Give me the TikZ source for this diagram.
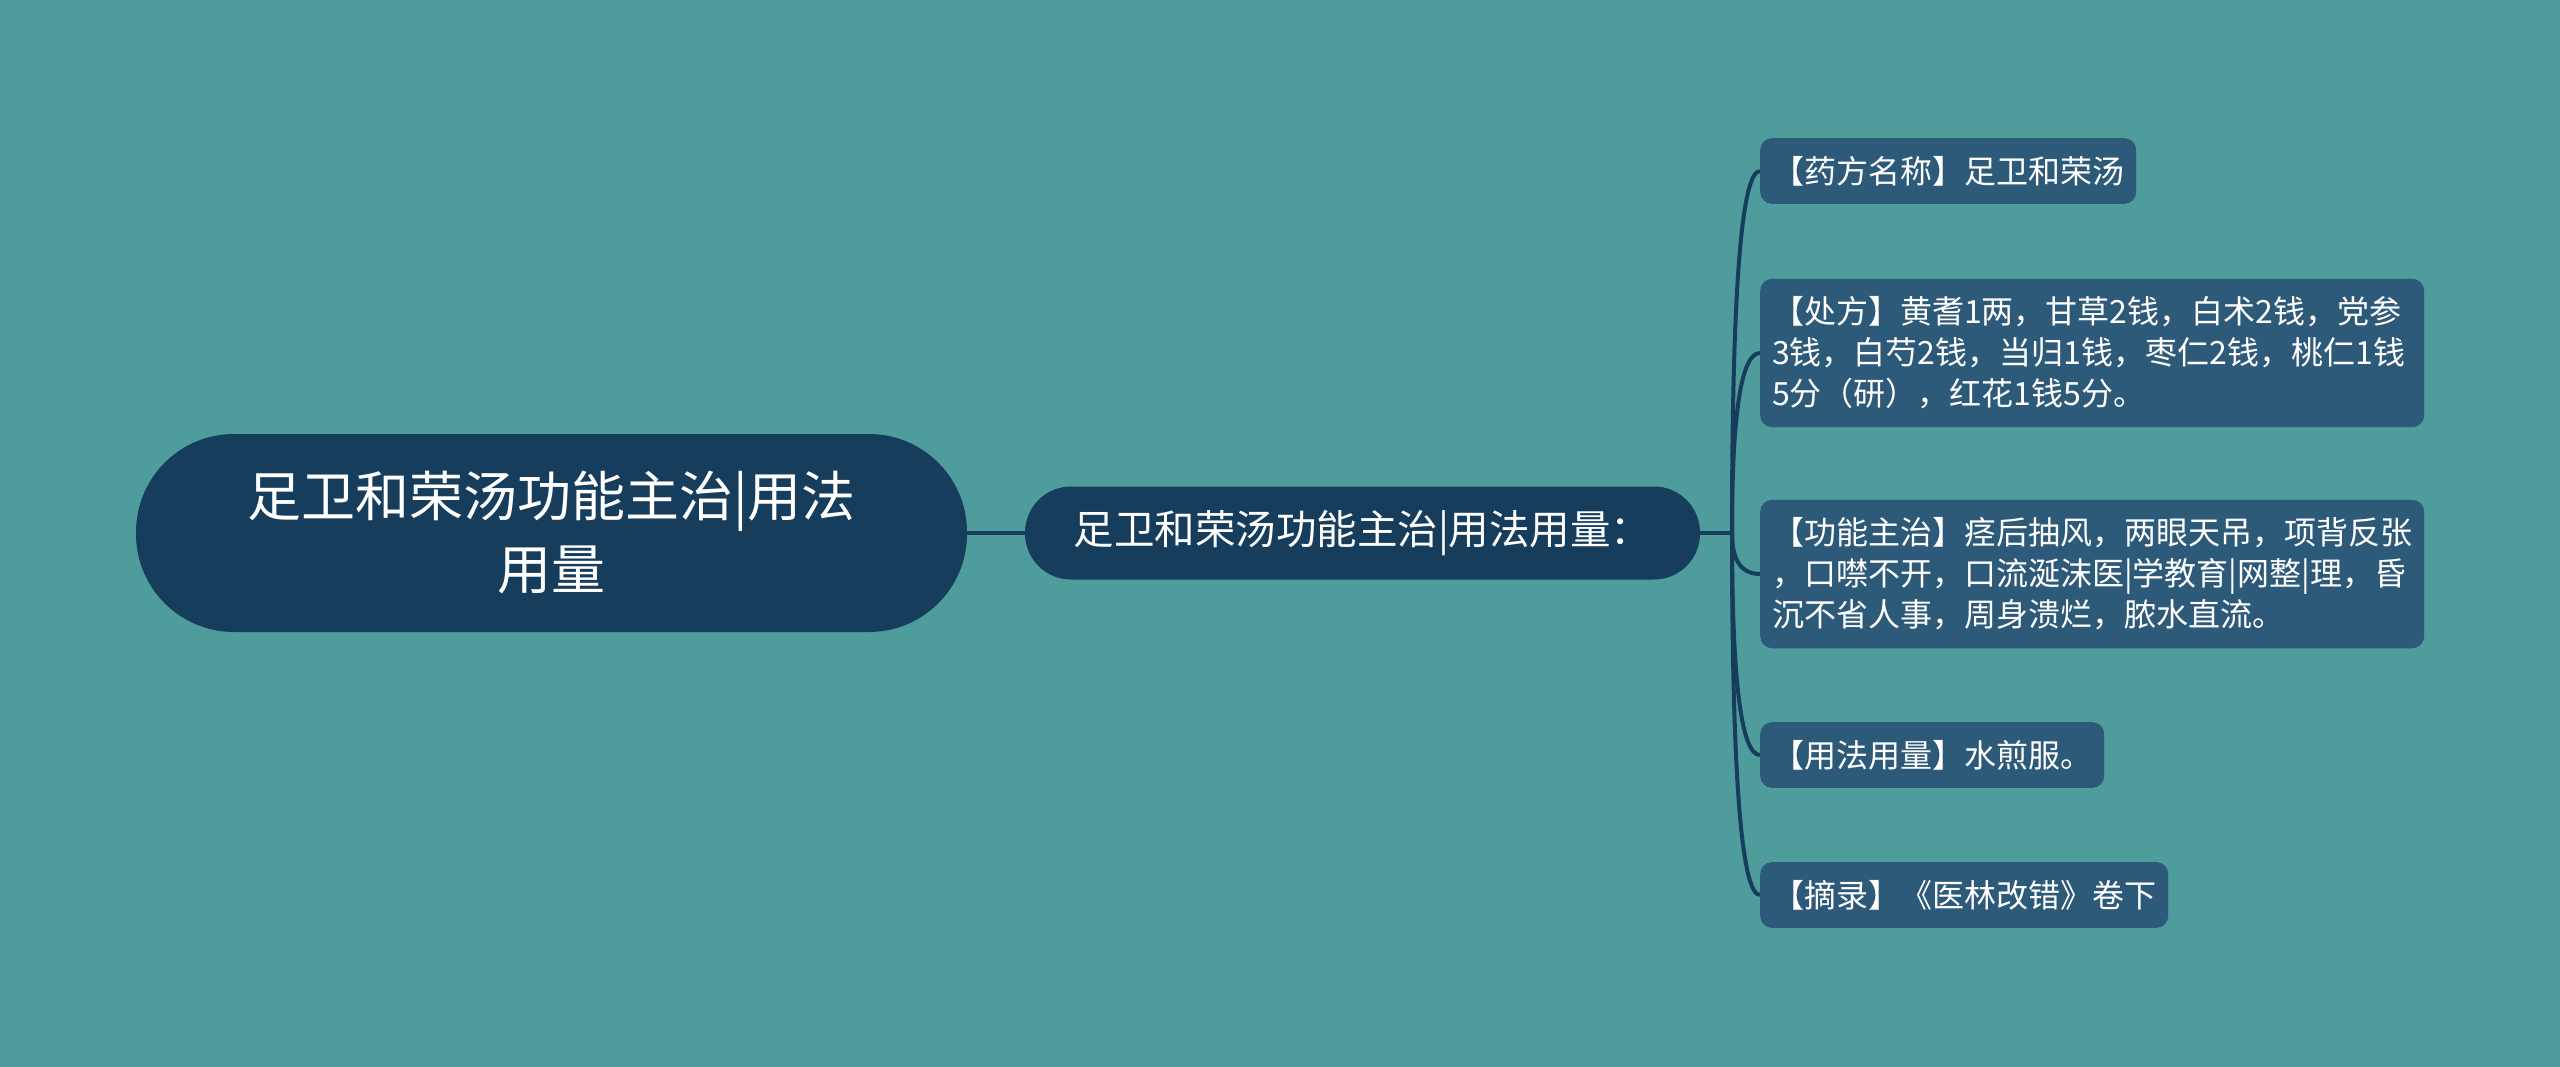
\documentclass[tikz,border=0pt]{standalone}
\usepackage{fontspec}
\setmainfont{Noto Sans CJK SC}
\usetikzlibrary{calc}
\definecolor{bgteal}{HTML}{4E9C9C}
\definecolor{darknode}{HTML}{173D5C}
\definecolor{leafnode}{HTML}{2E5A7A}
\tikzset{
  rootbox/.style={fill=darknode, text=white, rounded corners=98pt, align=center, inner sep=0pt,
    minimum width=831pt, minimum height=198pt, font=\fontsize{54}{73}\selectfont},
  midbox/.style={fill=darknode, text=white, rounded corners=46pt, align=center, inner sep=0pt,
    minimum width=675pt, minimum height=93pt, font=\fontsize{40.5}{48}\selectfont},
  leafbox/.style={fill=leafnode, text=white, rounded corners=12pt, align=left, anchor=west,
    inner xsep=12pt, inner ysep=18pt, font=\fontsize{32}{41}\selectfont},
  conn/.style={draw=darknode, line width=4pt},
}
\newcommand{\branch}[2]{%
  \draw[conn] (#1) .. controls ($(#1)!0.667!(#1|-#2.west)$) and ($(#2.west)!0.667!(#1|-#2.west)$) .. (#2.west);}
\begin{document}
\begin{tikzpicture}[x=1pt,y=-1pt]
\fill[bgteal] (0,0) rectangle (2560,1067);
\useasboundingbox (0,0) rectangle (2560,1067);

\node[rootbox] (root) at (551.5,533) {足卫和荣汤功能主治|用法\\用量};
\node[midbox] (mid) at (1362.5,533) {足卫和荣汤功能主治|用法用量：};

\node[leafbox] (l1) at (1760,171) {【药方名称】足卫和荣汤};
\node[leafbox, text width=640pt] (l2) at (1760,353) {【处方】黄耆1两，甘草2钱，白术2钱，党参\\3钱，白芍2钱，当归1钱，枣仁2钱，桃仁1钱\\5分（研），红花1钱5分。};
\node[leafbox, text width=640pt] (l3) at (1760,574) {【功能主治】痉后抽风，两眼天吊，项背反张\\，口噤不开，口流涎沫医|学教育|网整|理，昏\\沉不省人事，周身溃烂，脓水直流。};
\node[leafbox] (l4) at (1760,755) {【用法用量】水煎服。};
\node[leafbox] (l5) at (1760,895) {【摘录】《医林改错》卷下};

\coordinate (fork) at (1732,533);
\draw[conn] (root.east) -- (mid.west);
\draw[conn] (mid.east) -- (fork);
\branch{fork}{l1}
\branch{fork}{l2}
\branch{fork}{l3}
\branch{fork}{l4}
\branch{fork}{l5}
\end{tikzpicture}
\end{document}
